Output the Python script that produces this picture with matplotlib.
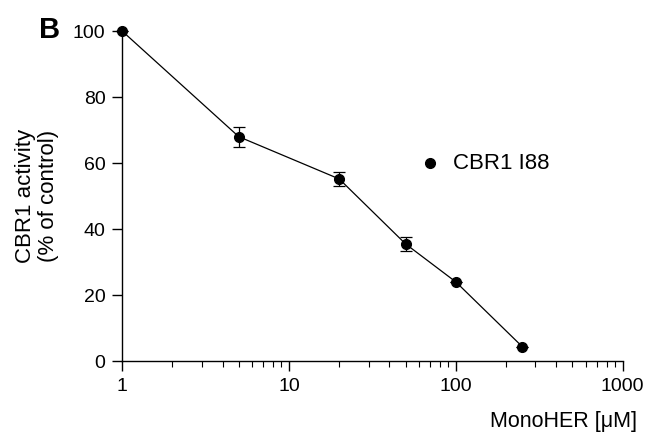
import matplotlib
matplotlib.use("Agg")
import matplotlib.pyplot as plt
import numpy as np

plt.rcParams['font.family'] = ['Liberation Sans', 'DejaVu Sans']

# MonoHER concentration (uM) and CBR1 I88 activity (% of control)
conc = [1, 5, 20, 50, 100, 250]
activity = [100, 68, 55.2, 35.5, 24, 4.4]
err = [0, 3, 2, 2, 0, 0]

fig = plt.figure(figsize=(6.5, 4.32), dpi=100)
ax = fig.add_axes([0.188, 0.164, 0.77, 0.764])

ax.errorbar(conc, activity, yerr=err, fmt='o-', color='black', ms=7, lw=0.9,
            elinewidth=0.9, capsize=4, capthick=0.9, clip_on=False, zorder=3)

ax.set_xscale('log')
ax.set_xlim(1, 1000)
ax.set_ylim(0, 100)
ax.set_yticks([0, 20, 40, 60, 80, 100])
ax.set_xticks([1, 10, 100, 1000])
ax.set_xticklabels(['1', '10', '100', '1000'])

for s in ['top', 'right']:
    ax.spines[s].set_visible(False)
ax.spines['left'].set_linewidth(1.0)
ax.spines['bottom'].set_linewidth(1.0)
ax.tick_params(which='major', direction='out', length=7, width=1.0, labelsize=14, pad=5)
ax.tick_params(which='minor', direction='out', length=4, width=0.8)

ax.set_ylabel('CBR1 activity\n(% of control)', fontsize=16, linespacing=1.15)
ax.yaxis.set_label_coords(-0.126, 0.5)
fig.text(0.98, 0.012, 'MonoHER [μM]', fontsize=15.5, ha='right', va='baseline')
fig.text(0.06, 0.912, 'B', fontsize=21, fontweight='bold', ha='left', va='baseline')

# legend
ax.plot([70], [60], 'o', color='black', ms=7)
ax.text(96, 60, 'CBR1 I88', fontsize=16, va='center', ha='left')

fig.savefig('out.png', dpi=100)
